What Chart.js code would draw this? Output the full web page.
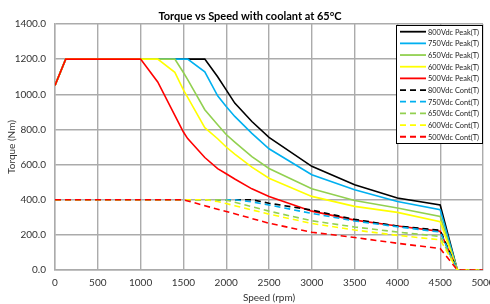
<!DOCTYPE html>
<html>
<head>
<meta charset="utf-8">
<script src="https://cdn.jsdelivr.net/npm/chart.js"></script>
<style>
html, body { margin: 0; padding: 0; background: #fff; }
#wrap { width: 490px; height: 304px; }
</style>
</head>
<body>
<div id="wrap"><canvas id="torqueChart" width="490" height="304"></canvas></div>
<script>
// speed grid (rpm) shared by all series
const speeds = [0, 125, 1000, 1200, 1400, 1500, 1550, 1750, 1900, 2000, 2100, 2300, 2500, 3000, 3500, 4000, 4500, 4700, 5000];

// peak torque (Nm)
const peak800 = [1050, 1200, 1200, 1200, 1200, 1200, 1200, 1200, 1100, 1025, 950, 845, 755, 590, 485, 410, 370, 0, 0];
const peak750 = [1050, 1200, 1200, 1200, 1200, 1200, 1200, 1128, 991, 930, 874, 778, 690, 542, 457, 390, 343, 0, 0];
const peak650 = [1050, 1200, 1200, 1200, 1200, 1124, 1083, 912, 827, 771, 728, 645, 578, 462, 396, 353, 305, 0, 0];
const peak600 = [1050, 1200, 1200, 1200, 1125, 1025, 982, 810, 747, 700, 660, 585, 522, 419, 362, 328, 275, 0, 0];
const peak500 = [1050, 1200, 1200, 1070, 880, 785, 748, 640, 577, 548, 518, 462, 418, 335, 284, 250, 220, 0, 0];

// continuous torque (Nm)
const cont800 = [400, 400, 400, 400, 400, 400, 400, 400, 400, 400, 400, 400, 380, 341, 288, 250, 226, 0, 0];
const cont750 = [400, 400, 400, 400, 400, 400, 400, 400, 400, 400, 400, 388, 370, 322, 279, 246, 216, 0, 0];
const cont650 = [400, 400, 400, 400, 400, 400, 400, 400, 400, 398, 385, 360, 335, 280, 245, 216, 191, 0, 0];
const cont600 = [400, 400, 400, 400, 400, 400, 400, 400, 390, 378, 366, 342, 318, 265, 228, 197, 172, 0, 0];
const cont500 = [400, 400, 400, 400, 400, 400, 393, 366, 346, 333, 320, 293, 266, 215, 185, 152, 122, 0, 0];

const seriesNames = [
    '800Vdc Peak(T)', '750Vdc Peak(T)', '650Vdc Peak(T)', '600Vdc Peak(T)', '500Vdc Peak(T)',
    '800Vdc Cont(T)', '750Vdc Cont(T)', '650Vdc Cont(T)', '600Vdc Cont(T)', '500Vdc Cont(T)'
];
const seriesValues = [peak800, peak750, peak650, peak600, peak500, cont800, cont750, cont650, cont600, cont500];
const seriesColors = ['#000000', '#00B0F0', '#92D050', '#FFFF00', '#FF0000'];

const FONT = 'Lato, "Open Sans", sans-serif';
const GRID = '#ababab';
const DASH = [6, 4];

const datasets = seriesValues.map((vals, i) => ({
    label: seriesNames[i],
    data: speeds.map((s, k) => ({ x: s, y: vals[k] })),
    borderColor: seriesColors[i % 5],
    backgroundColor: seriesColors[i % 5],
    borderWidth: 1.6,
    borderDash: i >= 5 ? DASH : [],
    pointRadius: 0,
    tension: 0,
    fill: false,
    order: 20 - i   // later series drawn on top, like the original
}));

// title drawn by hand so it can sit slightly off the plot centre
const titlePlugin = {
    id: 'manualTitle',
    afterDraw(chart) {
        const ctx = chart.ctx;
        ctx.save();
        ctx.font = 'bold 11px ' + FONT;
        ctx.fillStyle = '#000';
        ctx.textAlign = 'center';
        ctx.textBaseline = 'middle';
        ctx.fillText('Torque vs Speed with coolant at 65\u00B0C', 250, 16);
        ctx.restore();
    }
};

// legend box inside the plot, top right
const boxLegendPlugin = {
    id: 'boxLegend',
    afterDraw(chart) {
        const ctx = chart.ctx;
        const x0 = 396, y0 = 25, w = 86, h = 118;
        ctx.save();
        ctx.fillStyle = '#fff';
        ctx.fillRect(x0, y0, w, h);
        ctx.strokeStyle = '#000';
        ctx.lineWidth = 1;
        ctx.strokeRect(x0 + 0.5, y0 + 0.5, w, h);
        ctx.font = '8px ' + FONT;
        ctx.textBaseline = 'middle';
        ctx.textAlign = 'left';
        chart.data.datasets.forEach((ds, i) => {
            const y = 31.7 + i * 11.67;
            ctx.strokeStyle = ds.borderColor;
            ctx.lineWidth = 1.8;
            ctx.setLineDash(ds.borderDash.length ? [6, 4] : []);
            ctx.beginPath();
            ctx.moveTo(400, y);
            ctx.lineTo(426, y);
            ctx.stroke();
            ctx.setLineDash([]);
            ctx.fillStyle = '#222';
            ctx.fillText(ds.label, 428, y + 0.5, 51);
        });
        ctx.restore();
    }
};

const chart = new Chart(document.getElementById('torqueChart'), {
    type: 'line',
    data: { datasets: datasets },
    options: {
        responsive: false,
        maintainAspectRatio: false,
        animation: false,
        layout: { padding: { top: 24, right: 7, left: 0, bottom: 0 } },
        plugins: {
            legend: { display: false },
            tooltip: { enabled: false },
            title: { display: false }
        },
        scales: {
            x: {
                type: 'linear',
                min: 0,
                max: 5000,
                ticks: {
                    stepSize: 500,
                    padding: 7,
                    maxRotation: 0,
                    color: '#333',
                    font: { family: FONT, size: 10 },
                    callback: v => String(v)
                },
                grid: { color: GRID, lineWidth: 1.4, drawTicks: false },
                border: { color: GRID, width: 1.4 },
                title: {
                    display: true,
                    text: 'Speed (rpm)',
                    color: '#333',
                    font: { family: FONT, size: 10 },
                    padding: { top: 0, bottom: 0 }
                },
                afterFit(scale) {
                    scale.height = 34;
                    scale.paddingLeft = 0;
                    scale.paddingRight = 0;
                }
            },
            y: {
                min: 0,
                max: 1400,
                ticks: {
                    stepSize: 200,
                    padding: 9,
                    color: '#333',
                    font: { family: FONT, size: 10 },
                    callback: v => v.toFixed(1)
                },
                grid: { color: GRID, lineWidth: 1.4, drawTicks: false },
                border: { color: GRID, width: 1.4 },
                title: {
                    display: true,
                    text: 'Torque (Nm)',
                    color: '#333',
                    font: { family: FONT, size: 10 },
                    padding: { top: 6, bottom: 0 }
                },
                afterFit(scale) {
                    scale.width = 55;
                    scale.paddingTop = 0;
                    scale.paddingBottom = 0;
                }
            }
        }
    },
    plugins: [titlePlugin, boxLegendPlugin]
});
</script>
</body>
</html>
